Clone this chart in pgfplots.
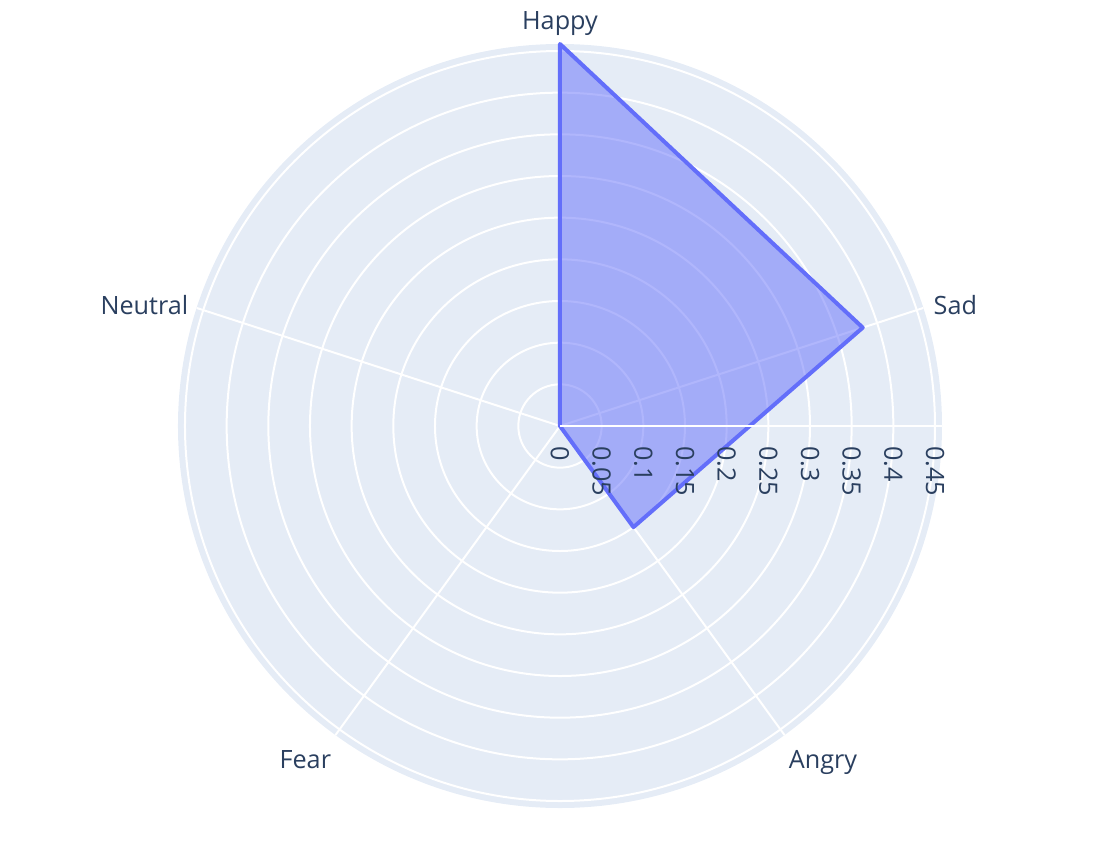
\documentclass[border=0pt]{standalone}
\usepackage{pgfplots}
\pgfplotsset{compat=1.18}
\usepgfplotslibrary{polar}
\usepackage{fontspec}
\setmainfont{Open Sans}
\definecolor{bgpolar}{HTML}{E5ECF6}
\definecolor{txt}{HTML}{2A3F5F}
\definecolor{trace}{HTML}{636EFA}
\begin{document}
\begin{tikzpicture}[font=\fontsize{12.6}{15}\selectfont, text=txt]
\useasboundingbox (-280pt,-218pt) rectangle (271pt,213pt);
\begin{polaraxis}[
  at={(0pt,0pt)}, anchor=center,
  scale only axis, width=382pt, height=382pt,
  xmin=0, xmax=360, ymin=0, ymax=0.4584,
  xtick={18,90,162,234,306}, xticklabels={},
  ytick={0.05,0.1,0.15,0.2,0.25,0.3,0.35,0.4,0.45}, yticklabels={},
  grid=major, major grid style={white, line width=1pt},
  axis line style={draw=none},
  major tick length=0pt,
  clip=false,
  axis background/.style={fill=bgpolar},
]
\addplot[fill=trace, fill opacity=0.5, draw=trace, line width=2pt, line join=round]
  coordinates {(90,0.4584) (18,0.382) (306,0.150) (234,0) (162,0) (90,0.4584)} -- cycle;
\draw[white, line width=1pt] (axis cs:0,0) -- (axis cs:0,0.4584);
\node[anchor=south, inner sep=0pt, yshift=4pt] at (axis cs:90,0.4584) {Happy};
\node[anchor=west, inner sep=0pt, xshift=5pt, yshift=1.5pt] at (axis cs:18,0.4584) {Sad};
\node[anchor=east, inner sep=0pt, xshift=-4pt, yshift=1.5pt] at (axis cs:162,0.4584) {Neutral};
\node[anchor=north west, inner sep=0pt, xshift=2pt, yshift=-7.5pt] at (axis cs:306,0.4584) {Angry};
\node[anchor=north east, inner sep=0pt, xshift=-2pt, yshift=-7.5pt] at (axis cs:234,0.4584) {Fear};
\pgfplotsinvokeforeach{0,0.05,0.1,0.15,0.2,0.25,0.3,0.35,0.4,0.45}{
  \node[inner sep=0pt, yshift=-10pt, rotate=-90, anchor=west] at (axis cs:0,#1) {#1};
}
\end{polaraxis}
\end{tikzpicture}
\end{document}
